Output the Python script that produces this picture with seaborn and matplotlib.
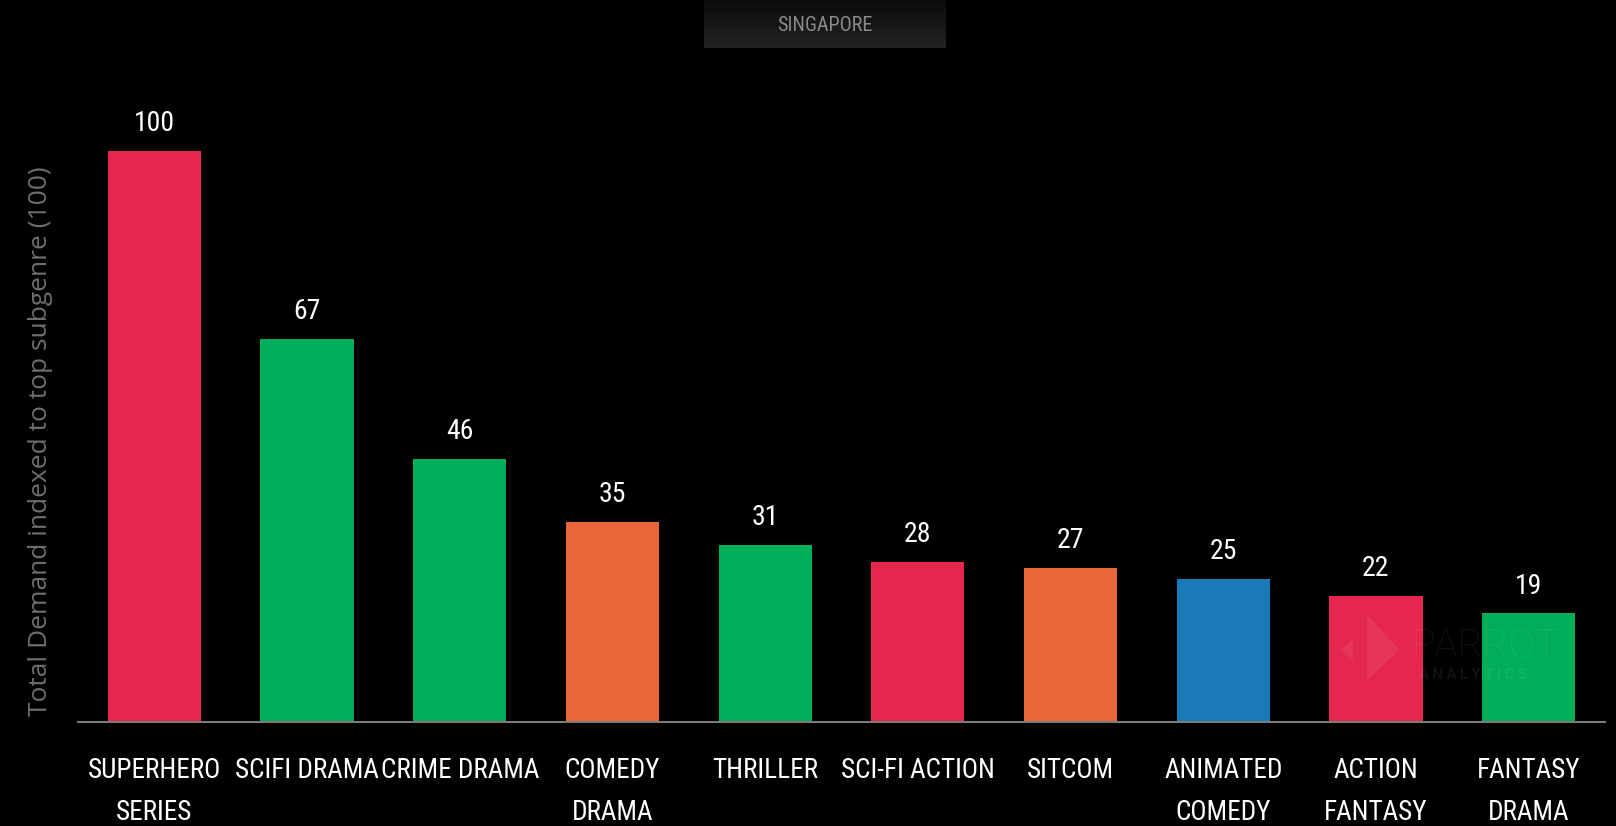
import matplotlib
matplotlib.use("Agg")
import matplotlib.pyplot as plt
import seaborn as sns
import pandas as pd
import numpy as np
from matplotlib import font_manager
from matplotlib.patches import Polygon

categories = ["SUPERHERO\nSERIES", "SCIFI DRAMA", "CRIME DRAMA", "COMEDY\nDRAMA", "THRILLER",
              "SCI-FI ACTION", "SITCOM", "ANIMATED\nCOMEDY", "ACTION\nFANTASY", "FANTASY\nDRAMA"]
values = [100, 67, 46, 35, 31, 28, 27, 25, 22, 19]
bar_colors = ["#E5264E", "#00AE5A", "#00AE5A", "#E8663A", "#00AE5A",
              "#E5264E", "#E8663A", "#1A7AB8", "#E5264E", "#00AE5A"]
title = "SINGAPORE"
ylabel = "Total Demand indexed to top subgenre (100)"

df = pd.DataFrame({"genre": categories, "value": values})

sns.set_theme(style="dark")
names = {f.name for f in font_manager.fontManager.ttflist}
cond = [n for n in ["Roboto Condensed", "Liberation Sans Narrow", "DejaVu Sans Condensed"] if n in names]
cond_font = cond[0] if cond else "DejaVu Sans"
plt.rcParams["font.family"] = [cond_font, "DejaVu Sans"]

W, H = 1616, 826
fig = plt.figure(figsize=(W / 100, H / 100), dpi=100, facecolor="black")
ax = fig.add_axes([78 / W, 1 - 722 / H, (1605 - 78) / W, (722 - 100) / H])
ax.set_facecolor("black")

sns.barplot(data=df, x="genre", y="value", hue="genre", palette=bar_colors,
            width=0.61, saturation=1, legend=False, linewidth=0, ax=ax)

ax.set_xlim(-0.5, 9.5)
ax.set_ylim(0, 108.9)
ax.set_yticks([])
ax.grid(False)
for s in ["top", "right", "left"]:
    ax.spines[s].set_visible(False)
ax.spines["bottom"].set_color("#7a7a7a")
ax.spines["bottom"].set_linewidth(1.5)

ax.set_xlabel("")
ax.set_ylabel(ylabel, color="#6e6e6e", fontsize=19, family=["Open Sans", "DejaVu Sans"])
ax.yaxis.set_label_coords(-0.0164, 0.452)
ax.tick_params(axis="x", length=0, pad=25, colors="white", labelsize=19.5)
for lbl in ax.get_xticklabels():
    lbl.set_linespacing(1.75)
    lbl.set_verticalalignment("top")

for i, v in enumerate(values):
    ax.annotate(str(v), (i, v), xytext=(0, 10), textcoords="offset points",
                ha="center", va="bottom", color="white", fontsize=20)

# title tab with a dark vertical gradient
tab = fig.add_axes([704 / W, 1 - 48 / H, (946 - 704) / W, 48 / H])
grad = np.linspace(0, 1, 64).reshape(-1, 1)
tab.imshow(grad, aspect="auto", cmap=matplotlib.colors.LinearSegmentedColormap.from_list(
    "tab", ["#0b0b0b", "#232323"]), extent=[0, 1, 0, 1], origin="upper")
tab.set_axis_off()
tab.text(0.5, 0.47, title, ha="center", va="center", color="#8a8a8a", fontsize=14.5,
         transform=tab.transAxes)

# faint watermark: logo and wordmark
def fpt(x, y):
    return (x / W, 1 - y / H)

wm = dict(color="white", alpha=0.07, transform=fig.transFigure, linewidth=0)
fig.patches.append(Polygon([fpt(1367, 615), fpt(1400, 650), fpt(1367, 680)], closed=True, **wm))
fig.patches.append(Polygon([fpt(1353, 638), fpt(1341, 650), fpt(1353, 662)], closed=True, **wm))
fig.text(1485 / W, 1 - 646 / H, "PARROT", color="white", alpha=0.07, fontsize=28,
         ha="center", va="center", family=["Roboto", "DejaVu Sans"], fontweight="light")
fig.text(1473 / W, 1 - 675 / H, "A N A L Y T I C S", color="white", alpha=0.07, fontsize=10.5,
         ha="center", va="center", family=["Roboto", "DejaVu Sans"], fontweight="bold")

fig.savefig("out.png", dpi=100, facecolor="black")
